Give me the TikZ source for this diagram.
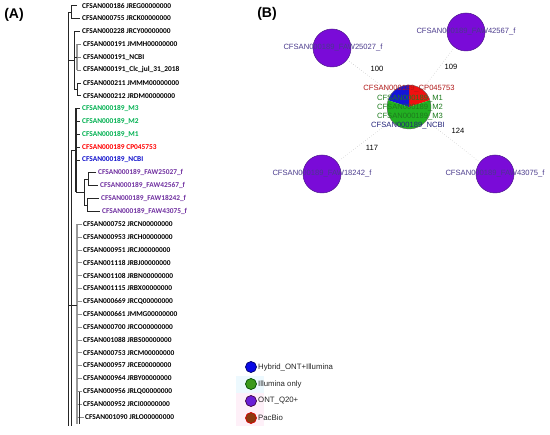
\documentclass[tikz,border=0pt]{standalone}
\usepackage{fontspec}
\setmainfont{Liberation Sans}
\newfontfamily\treefont{Carlito}
\definecolor{tgreen}{HTML}{00B050}
\definecolor{tred}{HTML}{FF0000}
\definecolor{tblue}{HTML}{1010CC}
\definecolor{tpurple}{HTML}{7030A0}
\definecolor{pred}{HTML}{F01010}
\definecolor{pblue}{HTML}{1515D8}
\definecolor{pgreen}{HTML}{22B022}
\definecolor{ontfill}{HTML}{7A0BD8}
\definecolor{ontline}{HTML}{4B1A8A}
\definecolor{flabc}{HTML}{4A3A8C}
\definecolor{plred}{HTML}{B01818}
\definecolor{plgreen}{HTML}{1E7A1E}
\definecolor{plnavy}{HTML}{23237A}
\definecolor{lghyb}{HTML}{0A0AE6}
\definecolor{lgill}{HTML}{3C9A1C}
\definecolor{lgont}{HTML}{6A1ED6}
\definecolor{lgpac}{HTML}{8B3A10}
\begin{document}
\begin{tikzpicture}[x=1pt,y=-1pt,
  tlab/.style={anchor=west,inner sep=0pt,font=\treefont\bfseries\fontsize{7.4}{8}\selectfont},
  tree/.style={line width=0.5pt,black!85},
  grayclade/.style={line width=2.4pt,black!40},
  ont/.style={circle,fill=ontfill,draw=ontline,line width=0.5pt,minimum size=38pt,inner sep=0pt},
  flab/.style={inner sep=0pt,text=flabc,font=\fontsize{7.6}{8}\selectfont},
  plab/.style={inner sep=0pt,font=\fontsize{7.6}{8}\selectfont},
  elab/.style={inner sep=0pt,font=\fontsize{7.6}{8}\selectfont},
  edge/.style={black!25,dotted,line width=0.5pt},
  lgc/.style={circle,minimum size=11pt,inner sep=0pt,line width=0.7pt},
  lgt/.style={anchor=west,inner sep=0pt,text=black!85,font=\fontsize{7.8}{9}\selectfont},
  panel/.style={inner sep=0pt,font=\bfseries\fontsize{14}{16}\selectfont}]
\useasboundingbox (0,0) rectangle (550,435);

% ---------- panel labels ----------
\node[panel] (pA) at (14,15) {(A)};
\node[panel] (pB) at (267,14) {(B)};

% ---------- tree labels ----------
\foreach \i/\t/\c/\x in {
 1/CFSAN000186 JREG00000000/black/82,
 2/CFSAN000755 JRCK00000000/black/82,
 3/CFSAN000228 JRCY00000000/black/82,
 4/CFSAN000191 JMMH00000000/black/83,
 5/CFSAN000191\_NCBI/black/83,
 6/CFSAN000191\_Clc\_jul\_31\_2018/black/83,
 7/CFSAN000211 JMMM00000000/black/83,
 8/CFSAN000212 JRDM00000000/black/83,
 9/CFSAN000189\_M3/tgreen/82,
 10/CFSAN000189\_M2/tgreen/82,
 11/CFSAN000189\_M1/tgreen/82,
 12/CFSAN000189 CP045753/tred/82,
 13/CFSAN000189\_NCBI/tblue/82,
 14/CFSAN000189\_FAW25027\_f/tpurple/98,
 15/CFSAN000189\_FAW42567\_f/tpurple/100,
 16/CFSAN000189\_FAW18242\_f/tpurple/101,
 17/CFSAN000189\_FAW43075\_f/tpurple/102,
 18/CFSAN000752 JRCN00000000/black/83,
 19/CFSAN000953 JRCH00000000/black/83,
 20/CFSAN000951 JRCJ00000000/black/83,
 21/CFSAN001118 JRBJ00000000/black/83,
 22/CFSAN001108 JRBN00000000/black/83,
 23/CFSAN001115 JRBX00000000/black/83,
 24/CFSAN000669 JRCQ00000000/black/83,
 25/CFSAN000661 JMMG00000000/black/83,
 26/CFSAN000700 JRCO00000000/black/83,
 27/CFSAN001088 JRBS00000000/black/83,
 28/CFSAN000753 JRCM00000000/black/83,
 29/CFSAN000957 JRCE00000000/black/83,
 30/CFSAN000964 JRBY00000000/black/83,
 31/CFSAN000956 JRLQ00000000/black/83,
 32/CFSAN000952 JRCI00000000/black/83,
 33/CFSAN001090 JRLO00000000/black/85}
 {\node[tlab,text=\c] (r\i) at (\x,{5.7+12.85*(\i-1)}) {\t};}

% ---------- tree skeleton ----------
\draw[tree] (68,12.1) -- (68,426);
\draw[tree] (71,150) -- (71,426);
% rows 1-2
\draw[tree] (68,12.1) -- (71,12.1);
\draw[tree] (77,0 |- r1.west) -- (71,0 |- r1.west) -- (71,0 |- r2.west) -- ([xshift=-2pt]r2.west);
% rows 3-8
\draw[tree] (68,60) -- (74,60);
\draw[tree] ([xshift=-2pt]r3.west) -- (74,0 |- r3.west) -- (74,89.2);
\draw[grayclade] (77,0 |- r4.west) -- (77,0 |- r6.west);
\foreach \i in {4,5,6} \draw[tree,black!50] (77,0 |- r\i.west) -- ([xshift=-2pt]r\i.west);
\draw[tree] (74,57) -- (77,57);
\draw[tree] ([xshift=-2pt]r7.west) -- (77,0 |- r7.west) -- (77,0 |- r8.west) -- ([xshift=-2pt]r8.west);
\draw[tree] (74,89.2) -- (77,89.2);
% rows 9-17
\draw[tree] (71,150) -- (76,150);
\draw[line width=1.3pt,black!85] (76,0 |- r9.west) -- (76,192);
\foreach \i in {9,10,11,12,13} \draw[tree] (76,0 |- r\i.west) -- ([xshift=-2pt]r\i.west);
\draw[tree] (76,192) -- (84,192);
\draw[tree] (84,179.2) -- (84,204.9);
\draw[tree] (84,179.2) -- (88,179.2);
\draw[tree] ([xshift=-2pt]r14.west) -- (88,0 |- r14.west) -- (88,0 |- r15.west) -- ([xshift=-2pt]r15.west);
\draw[tree] (84,204.9) -- (87,204.9);
\draw[tree] ([xshift=-2pt]r16.west) -- (87,0 |- r16.west) -- (87,0 |- r17.west) -- ([xshift=-2pt]r17.west);
% rows 18-33
\draw[grayclade] (77,0 |- r18.west) -- (77,424);
\foreach \i in {18,...,33} \draw[tree,black!45] (77,0 |- r\i.west) -- ([xshift=-1pt]r\i.west);
\draw[tree] (68,305) -- (77,305);
\draw[line width=0.8pt,black!85] (79,392) -- (79,424);

% ---------- panel B ----------
\node[circle,minimum size=44pt,inner sep=0pt] (pie) at (409,107) {};
\node[ont] (f1) at (332,48) {};
\node[ont] (f2) at (466,32) {};
\node[ont] (f3) at (322,174) {};
\node[ont] (f4) at (495,174) {};
\draw[edge] (pie) -- (f1);
\draw[edge] (pie) -- (f2);
\draw[edge] (pie) -- (f3);
\draw[edge] (pie) -- (f4);
% y axis points down: angles are mirrored
\fill[pred] (pie.center) -- ++(-90:22) arc[start angle=-90,end angle=-18,radius=22] -- cycle;
\fill[pblue] (pie.center) -- ++(-90:22) arc[start angle=-90,end angle=-162,radius=22] -- cycle;
\fill[pgreen] (pie.center) -- ++(-162:22) arc[start angle=-162,end angle=-378,radius=22] -- cycle;
\draw[black!60,line width=0.4pt] (pie.center) circle[radius=22];

\node[flab] (t1) at (333,48) {CFSAN000189\_FAW25027\_f};
\node[flab] (t2) at (466,32) {CFSAN000189\_FAW42567\_f};
\node[flab] (t3) at (322,174) {CFSAN000189\_FAW18242\_f};
\node[flab] (t4) at (495,174) {CFSAN000189\_FAW43075\_f};

\node[plab,text=plred] (q1) at (409,89) {CFSAN000189\_CP045753};
\node[plab,text=plgreen] (q2) at (410,98.5) {CFSAN000189\_M1};
\node[plab,text=plgreen] (q3) at (410,108) {CFSAN000189\_M2};
\node[plab,text=plgreen] (q4) at (410,117) {CFSAN000189\_M3};
\node[plab,text=plnavy] (q5) at (408,126) {CFSAN000189\_NCBI};

\node[elab] (e1) at (377,69) {100};
\node[elab] (e2) at (451,67) {109};
\node[elab] (e3) at (458,131) {124};
\node[elab] (e4) at (372,148) {117};

% ---------- legend ----------
\fill[cyan!7] (236,376) rectangle (264,393);
\fill[magenta!6] (236,393) rectangle (264,426);
\node[lgc,fill=lghyb,draw=blue!40!black] (g1) at (251,367) {};
\node[lgc,fill=lgill,draw=green!30!black] (g2) at (251,384) {};
\node[lgc,fill=lgont,draw=violet!50!black] (g3) at (251,401) {};
\node[lgc,fill=lgpac,draw=red!85!black] (g4) at (251,418) {};
\node[lgt] (h1) at (258,367) {Hybrid\_ONT+Illumina};
\node[lgt] (h2) at (258,384) {Illumina only};
\node[lgt] (h3) at (258,401) {ONT\_Q20+};
\node[lgt] (h4) at (258,418) {PacBio};
\end{tikzpicture}
\end{document}
